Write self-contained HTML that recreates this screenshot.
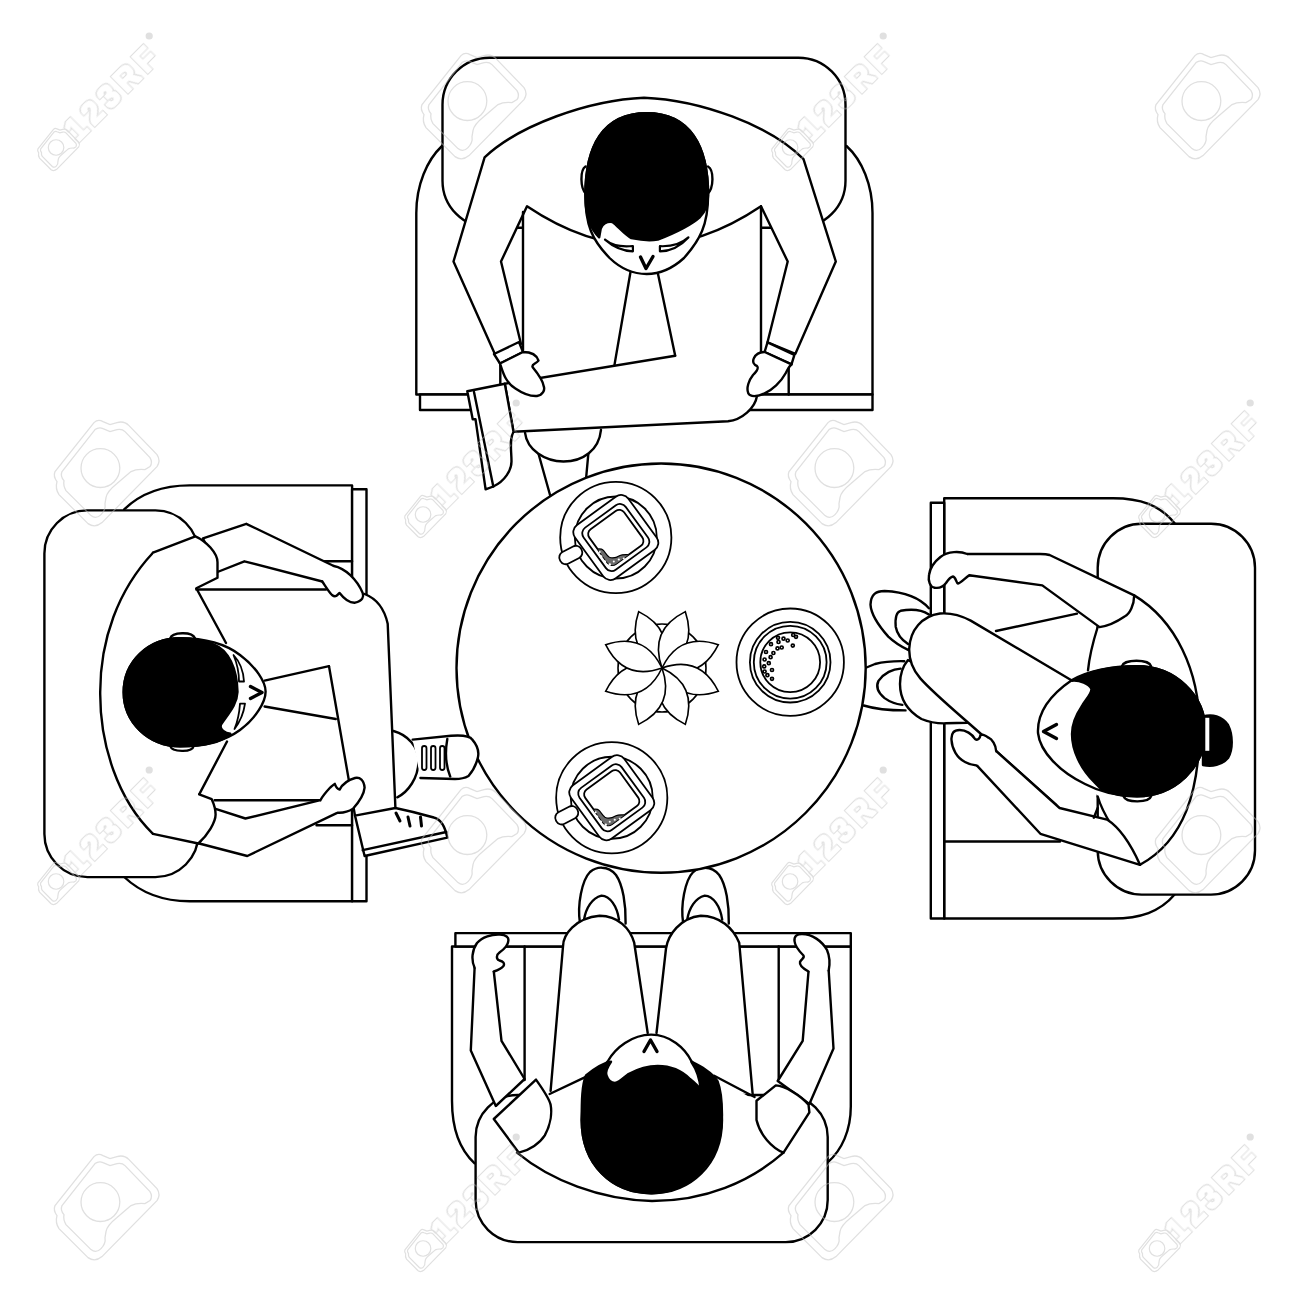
<!DOCTYPE html>
<html><head><meta charset="utf-8"><title>Cafe table top view</title>
<style>
html,body{margin:0;padding:0;background:#fff;}
svg{display:block;}
</style></head>
<body>
<svg width="1300" height="1300" viewBox="0 0 1300 1300">
<rect width="1300" height="1300" fill="#fff"/>
<g fill="#fff" stroke="#000" stroke-width="2.4" stroke-linejoin="round" stroke-linecap="round">

<!-- ===== TOP CHAIR ===== -->
<path d="M442,146 C427,160 416.3,185 416.3,213 V394.5 H872.5 V213 C872.5,185 862,160 846.5,146"/>
<rect x="420" y="394.5" width="452.5" height="15.5"/>
<path d="M500.3,340 V394.5 M788.7,340 V394.5" fill="none"/>
<rect x="442.5" y="57.7" width="403" height="170" rx="47"/>

<!-- top man lower legs (under table) -->
<path d="M538.5,453.8 L552,502 M588.5,452 L585,490" fill="none"/>
<path d="M525,432.7 C527,450 545,461.5 563.5,461.5 C583,461.5 599,450 601,429.8"/>

<!-- paper fill -->
<rect x="523" y="200" width="238" height="200" stroke="none"/>
<!-- body -->
<path d="M453.5,261.5 L484.6,157.3 C519,125 589,100 644,97.7 C700,100 770,125 803.5,159.2 L835.8,261.5 L795.4,353.8 L767.5,342.3 L787.7,261.5 L761,206.3 Q644,285 527,206.3 L501,261.5 L521,344 L495.2,354.8 Z"/>
<path d="M523,212 V350 M761,206.3 V356" fill="none"/>
<path d="M630.5,272 L614.4,365.4 M657.7,272.5 L675.2,355.8" fill="none"/>
<!-- crossed leg -->
<path d="M504.8,383.7 L675.2,355.8 L757,352 L757,396 C755,408 742,420 728,421.2 L513.5,431.7 Z" stroke="none"/>
<path d="M504.8,383.7 L675.2,355.8 M757,396 C755,408 742,420 728,421.2 L513.5,431.7 L504.8,383.7" fill="none"/>
<!-- shoe -->
<path d="M504.8,383.7 L467.3,391.3 L472.7,419.2 L475.5,419.2 L485.6,489.4 L493.3,486.5 C505,481 511.5,470 511.5,461.5 C511.5,450 509,440 513.5,431.7 Z"/>
<path d="M474,392 L493.3,486.5" fill="none"/>
<!-- cuffs & mittens -->
<path d="M494,354 L519,342 L523,352 L500,363.5 Z"/>
<path d="M500,363.5 C503,372 505,382 515.4,388.5 C522,393 530,396.5 537,396 C543,395 545,390 543.8,386.5 C543,381 539,375 532.7,367.3 C531,364 536,364 538.5,360.6 C537,356 532,352 523,352 Z"/>
<path d="M767.5,342.3 L794.4,354.8 L791.5,364.4 L764.6,352 Z"/>
<path d="M764.6,352 C760,352 756,354 754,358 C752,362 754,365 757,366 C759,368 757,371 753,375 C749,380 746,388 748.3,393.3 C750,397 757,397 764.6,393.3 C772,390 781,382 785.8,373 C788,369 789,366 791.5,364.4 Z"/>
<!-- head -->
<path d="M585.5,166.5 C580,170 580,188 586,194 M708,166.5 C714,170 714,188 707.5,194" fill="none"/>
<path d="M646.7,113.2 C603,113.2 585.4,146 585.4,195 C585.4,225 592,240 609.6,258 C620,268 633,274 646.7,274 C660,274 673,268 684,258 C700,240 708.1,225 708.1,195 C708.1,146 690,113.2 646.7,113.2 Z"/>
<path d="M585.4,195 C585.4,146 603,113.2 646.7,113.2 C690,113.2 708.1,146 708.1,195 C708.1,205 705,212 700,217 C690,226 672,234 657.7,239.6 C650,241 640,240 631.4,238.2 C624,234 618,226 612.4,222 C607,221 602,224 600.7,228.7 L599.2,237.4 C592,230 585.4,220 585.4,195 Z" fill="#000"/>
<path d="M605,239.6 Q615,248 632.9,246 L632.9,251.3 Q618,251 605,239.6 Z M688.4,237.4 Q678,247 659.9,246.2 L659.9,251.3 Q676,251 688.4,237.4 Z" stroke-width="2.2"/>
<path d="M640.5,257 L646,268.5 L653,256.5" fill="none" stroke-width="3.4"/>

<!-- ===== LEFT CHAIR ===== -->
<path d="M124.2,509.4 C140,494 160,485.4 189.6,485.4 H352.1 V901.2 H189.6 C160,901.2 140,892 124.2,877"/>
<rect x="352.1" y="489.2" width="14.4" height="412"/>
<path d="M316,561.3 H352.1 M316.5,825.2 H352.1" fill="none"/>
<rect x="44.4" y="510.4" width="154" height="366.7" rx="43"/>

<!-- ===== RIGHT CHAIR ===== -->
<path d="M1174.6,523.3 C1160,505 1140,498.3 1113,498.3 H944.2 V918.5 H1113 C1140,918.5 1160,912 1174.6,894.6"/>
<rect x="930.8" y="502.7" width="13.4" height="415.8"/>
<path d="M944.2,841.5 H1060 M944.2,575.3 H1045" fill="none"/>
<rect x="1097.7" y="523.8" width="157.3" height="370.8" rx="44"/>

<!-- ===== BOTTOM CHAIR ===== -->
<path d="M474.6,1163.3 C460,1150 452,1130 452,1100.8 V946.5 H850.8 V1106.5 C850.8,1130 842,1150 827.7,1162.3"/>
<rect x="455.4" y="933.1" width="395.4" height="13.4"/>
<path d="M524.6,946.5 V1080 M778.7,946.5 V1080" fill="none"/>
<rect x="475.6" y="1095" width="352.1" height="147.1" rx="42"/>

<!-- ===== LEFT MAN ===== -->
<!-- other leg (toward table) -->
<path d="M393.5,731 C408,735 418.5,747 418.5,760.8 C418.5,778 408,792 397.3,797.3"/>
<!-- torso -->
<path d="M153,552.7 C118,590 100,640 100.2,693 C100,745 118,800 153,833.8 L198.3,843.5 L217,810 L217,570 L195.4,536.3 Z" stroke="none"/>
<path d="M153,552.7 C118,590 100,640 100.2,693 C100,745 118,800 153,833.8" fill="none"/>
<!-- paper -->
<path d="M196.3,588.3 L365,590.2 L365,800.2 L199.2,800.2 Z" stroke="none"/>
<path d="M196.3,589.5 H326 M214.6,800.2 H320.4 M196.3,588.3 L226,643 M199.2,794.4 L227,741.5" fill="none"/>
<!-- crossed leg -->
<path d="M329,666.2 L329,600 L364.6,594 C375,598 383.8,606 387.7,623.8 L395.4,808 L355,815.6 Z" stroke="none"/>
<path d="M364.6,594 C375,598 383.8,606 387.7,623.8 L395.4,808 M329,666.2 L355,815.6" fill="none"/>
<path d="M264.6,680.6 L329,666.2 M264.6,706.5 L335.8,719" fill="none"/>
<path d="M355,815.6 L395.4,808 C410,811 425,815 433.8,817.5 C440,819 445,826 447.3,837.7 L364.6,856 Z"/>
<path d="M362.7,850.2 L446.3,832" fill="none"/>
<path d="M396,813 L400,821 M408,817 L410,826 M420.5,817 L421.5,826" fill="none" stroke-width="3"/>
<!-- arms -->
<path d="M203,538.3 L246.3,523.8 L333.8,566 L345,588 L322.3,581.5 L244.4,561.3 L217.5,572 Z"/>
<path d="M215.6,808.8 L245.4,818.5 L320.4,800.2 L345,795 L337.7,812.7 L247.3,856 L199.2,843.5 Z"/>
<!-- sleeves -->
<path d="M153,552.7 L195.4,536.3 C206,541 217.5,553 217.5,562.3 L217.5,577.7 L196.3,588.3 L160,575 Z" stroke="none"/>
<path d="M153,552.7 L195.4,536.3 C206,541 217.5,553 217.5,562.3 L217.5,577.7 L196.3,588.3" fill="none"/>
<path d="M153,833.8 L198.3,843.5 C208,835 215.6,822 215.6,814.6 C215.6,808 213,802 211.7,799.2 L199.2,794.4 L165,815 Z" stroke="none"/>
<path d="M153,833.8 L198.3,843.5 C208,835 215.6,822 215.6,814.6 C215.6,808 213,802 211.7,799.2 L199.2,794.4" fill="none"/>
<!-- hands -->
<path d="M333.8,566 C345,568 357,579.6 362.7,593 C364,597 362.7,600.8 355,602.7 C350,603 345,600 339.6,593 C337,595 336,598 332,595 C329,592 326,587 322.3,581.5"/>
<path d="M320.4,800.2 C322,797 326,792 330,787.7 C333,785 334,784 334.8,783.8 C336,787 337,789 339.6,789.6 C342,785 348,780 355,778 C360,777 364,780 364.6,787.7 C364,794 360,801 353,808.8 C348,812 343,813 337.7,812.7"/>
<!-- head -->
<path d="M170.2,638.5 C172,632 192,631 195,638.3 M170.2,746 C172,752 192,753 193.7,746" fill="none"/>
<path d="M180,638.3 C205,638.3 225,643.5 240,655 C256,667 265.6,682 265.6,691.5 C265.6,702 256,718 240,730 C225,741 205,746.2 180,746.2 C148,746.2 123.7,722 123.7,692.3 C123.7,662 148,638.3 180,638.3 Z"/>
<path d="M214.6,644.8 C228,650 237,668 237.5,692 C237,705 228,714 221,724.6 C219,730 226,733 230.3,733.8 C222,742 205,746.2 180,746.2 C148,746.2 123.7,722 123.7,692.3 C123.7,662 148,638.3 180,638.3 C196,638.3 206,641 214.6,644.8 Z" fill="#000"/>
<path d="M233.5,655 Q243,665 244,681.5 L239,681.5 Q239,668 233.5,655 Z M234.5,729 Q243,718 245,703.7 L240,703.7 Q239,718 234.5,729 Z" stroke-width="1.8"/>
<path d="M250.5,686.5 L262,692.5 L250.5,698.5" fill="none" stroke-width="3.4"/>

<!-- ===== RIGHT WOMAN ===== -->
<!-- shoes -->
<path d="M904.3,661.2 C895,661 885,661.5 875,664 L864,668.5 L862,706 C875,709 890,710.4 905.5,710.4 Z" stroke="none"/>
<path d="M904.3,661.2 C895,661 885,661.5 875,664 L864,668.5 M863.7,705.5 C875,709 890,710.4 905.5,710.4" fill="none"/>
<path d="M900.6,668.6 C893,669 884,673 878.5,680.9 C876,686 877,692 884.6,698.1 C890,702 896,704 902.4,704.9" fill="none"/>
<path d="M928.9,608.3 C920,598 905,592 884.6,591 C876,591 871,594 870.5,604.6 C871,614 878,625 888.3,636.6 C895,643 902,647 908.6,650.1"/>
<path d="M928.9,614.4 C922,610 912,608.8 900.6,610.8 C896,612 895,618 895.7,626.7 C897,634 902,640 908,644" fill="none"/>
<path d="M908,660 C903,666 900,675 900,684 C900,697 906,710 921.5,719 C931,723 940,723.5 946.1,723.3 L967,722.7 L960,690 Z"/>
<!-- torso -->
<path d="M1134.2,595.4 C1175,620 1200,670 1199.5,730 C1199,790 1185,840 1140,864.8 L1097.7,796.5 L1060,740 L1097.7,627 Z" stroke="none"/>
<path d="M1134.2,595.4 C1175,620 1200,670 1199.5,730 C1199,790 1185,840 1140,864.8" fill="none"/>
<path d="M1097.7,627 C1092,645 1089,660 1088,670.4 M1097.7,796.5 C1103,815 1120,840 1140,864.8" fill="none"/>
<!-- crossed leg -->
<path d="M909.2,648.9 C910,630 922,616 940,613.5 C952,612.5 962,616 970.7,620.6 L1071,680 L1080,760 L990,742 C960,715 935,695 920.3,678.4 C913,670 909,660 909.2,648.9 Z" stroke="none"/>
<path d="M1071,680 L970.7,620.6 C962,616 952,612.5 940,613.5 C922,616 910,630 909.2,648.9 C909,660 913,670 920.3,678.4 C935,695 960,715 990,742" fill="none"/>
<path d="M996,631 L1077,613.7" fill="none"/>
<!-- arms -->
<path d="M967.3,554 L1040,554 C1045,554 1048,554.5 1049.6,555 L1134.2,595.4 C1134,605 1130,614 1124.6,616.5 C1118,621 1108,626 1099.6,627.1 L1042.3,585.4 L969.2,575.2 L950,565 Z"/>
<path d="M967.3,554 C960,551 948,551 940.4,557 C934,562 930,568 929,575 C928,581 930,587 934.6,587.7 C939,588.5 943,587 946,583 C948,580 950,577 953,576.5 C956,577 956,583 958,583.5 C961,583 964,579 969.2,575.2"/>
<path d="M996.2,751.2 L1059.6,808 L1107,819.6 C1117,826 1128,838 1140,864.8 L1040.4,833.8 L977,765.6 L975,745 Z"/>
<path d="M993,747.5 L1056.5,804.5" fill="none" stroke-width="1.4"/>
<path d="M1097.7,808 L1093.8,817.7" fill="none"/>
<path d="M996.2,751.2 C996,745 992,739 988.5,737.7 C985,735 981,734 980.5,735 C980,738 978,741 975,739 C972,734 966,730 959.6,730 C954,730 951,733 951.5,740 C952,749 957,758 965,762 C970,765 975,765 977,765.6"/>
<!-- head -->
<path d="M1122,666 C1124,659 1149,659 1151,666 M1123.7,796.5 C1126,803 1149,803 1151.2,796.2" fill="none"/>
<path d="M1137,666.2 C1175,666.2 1205.3,695 1205.3,731 C1205.3,767 1175,796.2 1137,796.2 C1115,796.2 1100,792 1085,784 C1060,772 1040,752 1038,733 C1037,712 1050,695 1072,680 C1090,670 1115,666.2 1137,666.2 Z"/>
<path d="M1072,680.7 C1080,680 1089,684 1091.4,688.8 C1092,694 1085,700 1081.7,706.5 C1076,715 1072,725 1072,734 C1072,750 1080,768 1094.6,782.5 C1097,785 1099,787 1101,789 C1110,794 1122,796.2 1137,796.2 C1175,796.2 1205.3,767 1205.3,731 C1205.3,695 1175,666.2 1137,666.2 C1110,666.2 1088,672 1072,680.7 Z" fill="#000"/>
<path d="M1203,716.5 C1212,714 1222,716 1228,725 C1233,735 1233,750 1228,758 C1222,765 1212,767 1203,765 Z" fill="#000"/>
<rect x="1205.3" y="717.8" width="4" height="33" stroke="none"/>
<path d="M1056.5,724.5 L1043.5,731.5 L1056.5,738.5" fill="none" stroke-width="3.4"/>

<!-- ===== BOTTOM MAN ===== -->
<path d="M580,923.5 C577,905 582,880 590,872 C595,868 599,867.5 602,867.7 C607,867.7 612,870 616,875 C623,885 626,905 625.6,923.5"/>
<path d="M584,919.6 C586,908 592,898 601.5,895.6 C610,896 617,906 619,919.6" fill="none"/>
<path d="M683.2,923.5 C680.2,905 685.2,880 693.2,872 C698.2,868 702.2,867.5 705.2,867.7 C710.2,867.7 715.2,870 719.2,875 C726.2,885 729.2,905 728.8,923.5"/>
<path d="M687.2,919.6 C689.2,908 695.2,898 704.7,895.6 C713.2,896 720.2,906 722.2,919.6" fill="none"/>
<!-- torso -->
<path d="M517,1152.7 C550,1180 600,1200 652,1201 C705,1201 750,1182 783.5,1152.7 L756.5,1100.8 L700,1070 L600,1070 L536,1079.6 Z" stroke="none"/>
<path d="M517,1152.7 C550,1180 600,1200 652,1201 C705,1201 750,1182 783.5,1152.7" fill="none"/>
<path d="M549.6,1094 L590,1074.8 M714.2,1075.8 L754.6,1097" fill="none"/>
<!-- legs -->
<path d="M550.6,1090.8 L563,946.5 C563,935 575,918 599.6,915.8 C618,916 630,928 634.2,942.7 L647.7,1033"/>
<path d="M656.5,1033 L666,948.5 C668,935 680,918 700.8,915.8 C720,916 733,928 739.2,942.7 L752.7,1094.6"/>
<!-- arms -->
<path d="M474.6,967.7 L470.8,1050.4 L495.8,1106 L524.6,1079 L501.5,1040.8 L493.8,971.5 L485,955 Z"/>
<path d="M808.5,971.5 L802.7,1040.8 L777.7,1081 L809.4,1104 L833.5,1048.5 L828.7,970.6 L815,955 Z"/>
<path d="M474.6,967.7 C471,960 472,950 477,943 C482,937 492,934 500,934.5 C506,935 509,937 508.3,941 C508,946 503,950 499.5,952.5 C496,955 496,959 499.5,960.5 C503,961.5 505,963 503.5,966 C501,969 497,970.5 493.8,971.5"/>
<path d="M808.5,971.5 C804,969 799,966 800,962 C801,959 805,958 803.5,955.5 C800,952 795,947 794.5,941 C794,936 797,934 802,934 C812,934 822,941 827,950 C830,957 830,964 828.7,970.6"/>
<!-- sleeves -->
<path d="M493.8,1119 L536,1079.6 C542,1088 549,1098 550.6,1104.6 C552,1112 551,1124 544.8,1135.4 C540,1143 530,1150 518.8,1152.7 Z"/>
<path d="M756.5,1100.8 L775.8,1085.4 C785,1086 800,1095 808.5,1104.6 L809.4,1112.3 L783.5,1152.7 C772,1148 760,1135 756.5,1120 Z"/>
<!-- head -->
<path d="M651.1,1034.6 C670,1034.6 685,1048 691.3,1061 C705,1075 722,1090 722,1120 C722,1165 690,1193.2 652,1193.2 C612,1193.2 581.7,1165 581.7,1120 C581.7,1090 598,1072 608,1061 C615,1048 632,1034.6 651.1,1034.6 Z"/>
<path d="M586,1075.5 C595,1068 603,1063 611,1061.7 C608,1066 605,1071 606.5,1075.5 C608,1080 611,1083 615,1083 C620,1082 624,1077 628.5,1074 C638,1069 648,1066 657.7,1066 C670,1066 682,1071 690,1079 C695,1083 699,1087 700.8,1090 C700,1080 697,1070 691.3,1061.7 C700,1066 712,1072 717.6,1081.4 C721,1090 722,1100 722,1115 C722,1160 690,1193.2 651,1193.2 C612,1193.2 581.7,1165 581.7,1120 C581.7,1100 582,1085 586,1075.5 Z" fill="#000"/>
<path d="M644,1051.5 L650.5,1040 L657,1051.5" fill="none" stroke-width="3.4"/>

<!-- ===== TABLE ===== -->
<circle cx="661.1" cy="668.1" r="204.6"/>
<path d="M412.7,739.6 L451,735.8 C462,735 470,736 472.3,739.6 C477,745 479,752 478,757 C476,766 472,772 468.5,776 C465,778 460,779 455,779 L420.4,778"/>
<path d="M447.3,739 C445,752 446,766 450.2,776.5" fill="none"/>
<rect x="422" y="746" width="4.5" height="24" rx="2.2" stroke-width="1.8"/>
<rect x="431" y="746" width="4.5" height="24" rx="2.2" stroke-width="1.8"/>
<rect x="440" y="746" width="4.5" height="24" rx="2.2" stroke-width="1.8"/>
</g>

<!-- table items -->
<defs>
<g id="cup" fill="#fff" stroke="#000" stroke-width="1.8">
  <circle r="55.6"/>
  <circle r="41"/>
  <rect x="-57" y="11" width="24" height="13" rx="6" transform="rotate(-28 -45 17.5)"/>
  <rect x="-33" y="-33" width="66" height="66" rx="9" transform="rotate(-36)"/>
  <rect x="-26" y="-26" width="52" height="52" rx="7" transform="rotate(-36)"/>
  <rect x="-21.5" y="-21.5" width="43" height="43" rx="6" transform="rotate(-36)"/>
  <clipPath id="r3c"><rect x="-21.5" y="-21.5" width="43" height="43" rx="6" transform="rotate(-36)"/></clipPath>
  <path clip-path="url(#r3c)" d="M-26,14 C-19,11 -14.5,11 -12.8,12.5 C-11,14 -9,18 -6.8,19.5 C-4,21 0,20.5 4.2,18 C7,16.5 13,17 22,18 L22,40 L-26,40 Z" fill="#6a6a6a" stroke-width="1.2"/>
  <g fill="#fff" stroke="none">
    <circle cx="-15" cy="19" r="1.6"/><circle cx="-11" cy="24" r="1.3"/><circle cx="-6" cy="27" r="1.2"/>
    <circle cx="-2" cy="24" r="1"/><circle cx="3" cy="22" r="1.1"/><circle cx="8" cy="21" r="1"/><circle cx="-16" cy="14.5" r="0.9"/>
  </g>
</g>
</defs>
<use href="#cup" x="615.8" y="537.5"/>
<use href="#cup" x="611.75" y="797.75"/>

<g fill="none" stroke="#000" stroke-width="1.8">
  <circle cx="790.2" cy="662.2" r="53.7"/>
  <circle cx="790.2" cy="662.2" r="40.3"/>
  <circle cx="790.2" cy="662.2" r="36.4"/>
  <circle cx="790.2" cy="662.2" r="29.9"/>
  <g stroke-width="1.7">
  <circle cx="771" cy="644.2" r="1.5"/><circle cx="766" cy="652" r="1.5"/><circle cx="764.6" cy="659.5" r="1.5"/>
  <circle cx="768.8" cy="663.2" r="1.5"/><circle cx="764.2" cy="666.4" r="1.5"/><circle cx="772" cy="670" r="1.5"/>
  <circle cx="764.6" cy="671.5" r="1.5"/><circle cx="767.4" cy="675.2" r="1.5"/><circle cx="772" cy="678.8" r="1.5"/>
  <circle cx="770.6" cy="657.2" r="1.5"/><circle cx="773.4" cy="653" r="1.5"/><circle cx="777.5" cy="648.4" r="1.5"/>
  <circle cx="781.7" cy="647.5" r="1.5"/><circle cx="778.5" cy="642" r="1.5"/><circle cx="778" cy="637.8" r="1.5"/>
  <circle cx="783.5" cy="638.7" r="1.5"/><circle cx="787.7" cy="640.5" r="1.5"/><circle cx="792.8" cy="645.6" r="1.5"/>
  <circle cx="793.2" cy="635" r="1.5"/><circle cx="796" cy="636.8" r="1.5"/>
  </g>
</g>

<g fill="#fff" stroke="#000" stroke-width="1.6" transform="translate(662,668)">
  <circle r="44"/>
  <path id="pt" d="M0,0 Q30,-27 61,0 Q30,27 0,0 Z" transform="rotate(-112.5)"/>
  <path d="M0,0 Q30,-27 61,0 Q30,27 0,0 Z" transform="rotate(-67.5)"/>
  <path d="M0,0 Q30,-27 61,0 Q30,27 0,0 Z" transform="rotate(-22.5)"/>
  <path d="M0,0 Q30,-27 61,0 Q30,27 0,0 Z" transform="rotate(22.5)"/>
  <path d="M0,0 Q30,-27 61,0 Q30,27 0,0 Z" transform="rotate(67.5)"/>
  <path d="M0,0 Q30,-27 61,0 Q30,27 0,0 Z" transform="rotate(112.5)"/>
  <path d="M0,0 Q30,-27 61,0 Q30,27 0,0 Z" transform="rotate(157.5)"/>
  <path d="M0,0 Q30,-27 61,0 Q30,27 0,0 Z" transform="rotate(-157.5)"/>
</g>

<defs>
<g id="cam">
  <path d="M-52,-2 L-13,-51 Q-9,-55 -4,-52 L3,-49 L10,-51 Q17,-53 22,-48 L50,-19 Q54,-13 50,-7 L-5,49 Q-12,55 -19,50 L-48,21 Q-52,15 -50,8 Q-54,3 -52,-2 Z"/>
  <path d="M-45,-2 L-12,-44 Q-8,-47 -4,-45 L3,-42 L10,-44 Q15,-45 18,-42 L43,-16 Q46,-11 43,-7 L38,-4 Q30,-5 24,-2 L10,10 Q0,18 -1,24 L-2,30 Q-1,36 -6,41 Q-11,46 -16,42 L-41,17 Q-44,12 -43,7 Q-47,3 -45,-2 Z"/>
  <circle cx="-6.6" cy="-5.5" r="19.4"/>
</g>
<filter id="olf" x="-20%" y="-20%" width="140%" height="140%"><feMorphology in="SourceAlpha" operator="dilate" radius="2.2" result="d"/><feMorphology in="SourceAlpha" operator="dilate" radius="1" result="e"/><feComposite in="d" in2="e" operator="out" result="o"/><feFlood flood-color="#c0c0c0"/><feComposite in2="o" operator="in"/></filter>
<g id="logo">
  <use href="#cam" transform="translate(-48.3,43.1) scale(0.4)" stroke-width="3"/>
  <text x="0" y="11" transform="translate(4,-13) rotate(-45)" text-anchor="middle" font-family="Liberation Sans, sans-serif" font-weight="bold" font-size="31" textLength="116" lengthAdjust="spacing" fill="#000" stroke="none" filter="url(#olf)">123RF</text>
  <circle cx="42.2" cy="-70.6" r="3.6" fill="#c0c0c0" stroke="none"/>
</g>
</defs>
<g fill="none" stroke="#c0c0c0" stroke-width="1.3" opacity="0.5">
<use href="#logo" x="107.0" y="106.6"/>
<use href="#cam" x="474.0" y="106.6"/>
<use href="#logo" x="841.0" y="106.6"/>
<use href="#cam" x="1208.0" y="106.6"/>
<use href="#cam" x="107.0" y="473.6"/>
<use href="#logo" x="474.0" y="473.6"/>
<use href="#cam" x="841.0" y="473.6"/>
<use href="#logo" x="1208.0" y="473.6"/>
<use href="#logo" x="107.0" y="840.6"/>
<use href="#cam" x="474.0" y="840.6"/>
<use href="#logo" x="841.0" y="840.6"/>
<use href="#cam" x="1208.0" y="840.6"/>
<use href="#cam" x="107.0" y="1207.6"/>
<use href="#logo" x="474.0" y="1207.6"/>
<use href="#cam" x="841.0" y="1207.6"/>
<use href="#logo" x="1208.0" y="1207.6"/>
</g>
</svg>
</body></html>
